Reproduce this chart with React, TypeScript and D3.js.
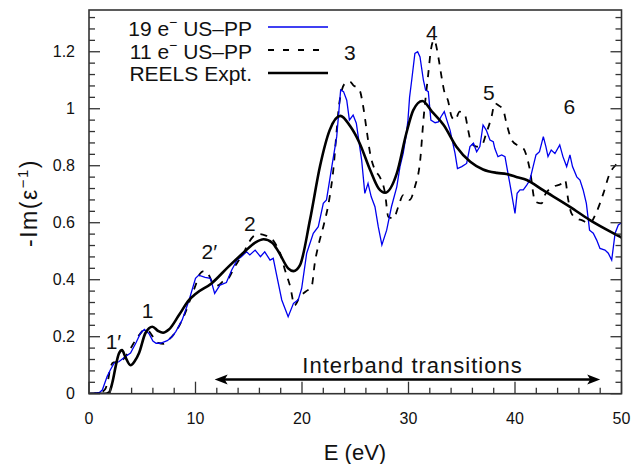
import React from "react";
import * as d3 from "d3";

// ---------- DATA ----------
const xMajorTicks = [0, 10, 20, 30, 40, 50];
const yMajorTicks = [0, 0.2, 0.4, 0.6, 0.8, 1, 1.2];
const yTickLabels = ["0", "0.2", "0.4", "0.6", "0.8", "1", "1.2"];

// 19 e- US-PP (blue)
const us19: [number, number][] = [
  [0, 0], [0.5, 0.002], [1.0, 0.005], [1.25, 0.013], [1.7, 0.06], [2.0, 0.083], [2.35, 0.107],
  [2.8, 0.112], [3.4, 0.13], [3.9, 0.143], [4.4, 0.178], [4.85, 0.213], [5.2, 0.226], [5.65, 0.21],
  [6.0, 0.185], [6.3, 0.177], [6.7, 0.177], [7.35, 0.186], [7.8, 0.2], [8.15, 0.218], [8.75, 0.259],
  [9.4, 0.329], [10.0, 0.405], [10.3, 0.416], [10.9, 0.408], [11.4, 0.405], [11.8, 0.352],
  [12.3, 0.381], [12.9, 0.39], [13.4, 0.434], [13.9, 0.469], [14.3, 0.481], [14.8, 0.498],
  [15.1, 0.487], [15.6, 0.504], [16.1, 0.481], [16.5, 0.498], [17.0, 0.469], [17.3, 0.475],
  [17.6, 0.42], [18.1, 0.329], [18.7, 0.27], [19.2, 0.317], [19.65, 0.33], [19.97, 0.37],
  [20.44, 0.493], [21.06, 0.563], [21.53, 0.586], [22.0, 0.668], [22.3, 0.68], [22.8, 0.797],
  [23.26, 0.902], [23.63, 1.066], [23.9, 1.06], [24.2, 1.03], [24.45, 0.96], [24.8, 0.978],
  [25.1, 0.949], [25.6, 0.82], [25.9, 0.703], [26.2, 0.738], [26.5, 0.691], [26.85, 0.656],
  [27.16, 0.586], [27.5, 0.522], [27.95, 0.574], [28.4, 0.656], [28.9, 0.726], [29.2, 0.797],
  [29.5, 0.843], [29.75, 0.9], [29.95, 0.96], [30.1, 1.04], [30.3, 1.1], [30.6, 1.194],
  [30.86, 1.2], [31.08, 1.182], [31.4, 1.1], [31.6, 1.066], [31.86, 1.06], [32.1, 0.96],
  [32.5, 0.951], [32.8, 0.954], [33.05, 0.972], [33.36, 0.99], [33.6, 0.96], [33.9, 0.925],
  [34.37, 0.843], [34.6, 0.79], [35.0, 0.797], [35.46, 0.808], [35.77, 0.867], [36.1, 0.879],
  [36.4, 0.849], [36.7, 0.867], [37.0, 0.943], [37.3, 0.925], [37.65, 0.89], [37.96, 0.884],
  [38.1, 0.861], [38.4, 0.832], [38.75, 0.838], [39.06, 0.832], [39.4, 0.761], [39.6, 0.72],
  [39.78, 0.68], [40.0, 0.633], [40.2, 0.703], [40.47, 0.715], [40.78, 0.715], [41.1, 0.732],
  [41.4, 0.75], [41.7, 0.797], [41.97, 0.838], [42.3, 0.849], [42.66, 0.902], [42.9, 0.867],
  [43.1, 0.832], [43.4, 0.855], [43.75, 0.843], [44.2, 0.873], [44.5, 0.832], [44.85, 0.797],
  [45.16, 0.838], [45.4, 0.797], [45.8, 0.761], [46.1, 0.75], [46.4, 0.715], [46.7, 0.668],
  [47.0, 0.574], [47.35, 0.563], [47.67, 0.539], [47.98, 0.51], [48.45, 0.504], [48.76, 0.493],
  [49.08, 0.469], [49.4, 0.563], [49.7, 0.592], [50, 0.6],
];

// 11 e- US-PP (dashed)
const us11: [number, number][] = [
  [0, 0], [1.0, 0.003], [1.5, 0.015], [1.8, 0.05], [2.0, 0.09], [2.3, 0.11], [2.7, 0.112],
  [3.2, 0.12], [3.6, 0.14], [4.0, 0.165], [4.4, 0.19], [4.8, 0.21], [5.2, 0.225], [5.6, 0.22],
  [6.0, 0.2], [6.5, 0.178], [7.0, 0.175], [7.5, 0.19], [8.0, 0.21], [8.5, 0.24], [9.0, 0.28],
  [9.5, 0.33], [10.0, 0.38], [10.4, 0.42], [10.8, 0.43], [11.2, 0.42], [11.6, 0.39], [12.1, 0.38],
  [12.6, 0.395], [13.1, 0.405], [13.6, 0.44], [14.1, 0.47], [14.65, 0.504], [15.0, 0.53],
  [15.4, 0.551], [16.0, 0.56], [16.6, 0.555], [17.15, 0.545], [17.6, 0.52], [17.9, 0.498],
  [18.4, 0.434], [18.9, 0.375], [19.3, 0.31], [19.8, 0.34], [20.4, 0.36], [20.9, 0.375],
  [21.2, 0.458], [21.6, 0.53], [22.0, 0.586], [22.6, 0.691], [22.94, 0.785], [23.26, 0.925],
  [23.5, 1.019], [24.04, 1.089], [24.5, 1.095], [24.8, 1.083], [25.4, 1.066], [25.75, 1.007],
  [26.07, 0.925], [26.4, 0.843], [26.85, 0.785], [27.3, 0.761], [27.8, 0.703], [28.1, 0.621],
  [28.6, 0.615], [29.04, 0.656], [29.5, 0.697], [30.1, 0.68], [30.6, 0.726], [31.1, 0.82],
  [31.4, 0.96], [31.86, 1.124], [32.1, 1.206], [32.4, 1.241], [32.8, 1.182], [33.05, 1.124],
  [33.4, 1.054], [33.7, 1.03], [34.05, 0.972], [34.37, 0.96], [34.8, 0.99], [35.3, 0.978],
  [35.6, 0.925], [35.9, 0.879], [36.4, 0.867], [36.9, 0.873], [37.3, 0.914], [37.8, 0.972],
  [38.1, 1.019], [38.4, 1.013], [38.9, 0.995], [39.2, 0.949], [39.7, 0.89], [40.3, 0.87],
  [40.8, 0.86], [41.4, 0.785], [41.9, 0.674], [42.5, 0.668], [42.8, 0.697], [43.6, 0.726],
  [44.4, 0.738], [44.7, 0.75], [45.0, 0.68], [45.3, 0.633], [45.8, 0.615], [46.26, 0.609],
  [47.0, 0.598], [47.67, 0.639], [48.3, 0.703], [48.9, 0.773], [49.4, 0.8], [50, 0.82],
];

// REELS experiment (solid black)
const reels: [number, number][] = [
  [0, 0], [1.5, 0.0], [1.9, 0.005], [2.2, 0.04], [2.5, 0.095], [2.8, 0.14], [3.1, 0.153],
  [3.4, 0.13], [3.9, 0.1], [4.3, 0.115], [4.7, 0.143], [5.3, 0.213], [5.95, 0.235], [6.5, 0.22],
  [6.95, 0.214], [7.5, 0.225], [8.45, 0.276], [9.4, 0.329], [10.0, 0.35], [11.5, 0.387],
  [13.1, 0.446], [14.6, 0.498], [15.6, 0.53], [16.4, 0.542], [17.2, 0.53], [17.8, 0.498],
  [18.7, 0.44], [19.2, 0.43], [19.8, 0.45], [20.75, 0.61], [21.7, 0.8], [22.6, 0.925],
  [23.6, 0.975], [24.5, 0.94], [25.4, 0.88], [26.4, 0.785], [27.2, 0.72], [27.8, 0.705],
  [28.9, 0.773], [29.8, 0.914], [30.45, 0.995], [31.3, 1.027], [32.2, 0.99], [33.3, 0.943],
  [34.5, 0.867], [35.8, 0.814], [37.0, 0.787], [38.3, 0.775], [39.2, 0.771], [40.2, 0.76],
  [41.1, 0.75], [42.6, 0.715], [45.2, 0.655], [47.0, 0.61], [49.9, 0.55], [50, 0.548],
];

// peak annotations: label, E, value (baseline position)
const peakLabels: [string, number, number][] = [
  ["1\u2032", 2.3, 0.157], ["1", 5.5, 0.267], ["2\u2032", 11.3, 0.472], ["2", 15.1, 0.572],
  ["3", 24.5, 1.172], ["4", 32.2, 1.242], ["5", 37.55, 1.032], ["6", 45.1, 0.982],
];

const arrowRange = [11.8, 48.0];
const arrowLevel = 0.05;

// ---------- LAYOUT ----------
const W = 632, H = 464;
const L = 89, R = 621.5, T = 10, B = 393.7;
const FONT = "'Liberation Sans', Arial, sans-serif";
const AXIS = "#333";

export default function App() {
  const x = d3.scaleLinear().domain([0, 50]).range([L, R]);
  const y = d3.scaleLinear().domain([0, 1.3465]).range([B, T]);

  const lineLin = d3.line<[number, number]>().x(d => x(d[0])).y(d => y(d[1]));
  const lineSmooth = d3.line<[number, number]>().x(d => x(d[0])).y(d => y(d[1])).curve(d3.curveMonotoneX);

  const xMinor = d3.range(0, 50.001, 2).filter(v => v % 10 !== 0);
  const yMinor = d3.range(0, 1.33, 0.04).filter(v => Math.abs(v / 0.2 - Math.round(v / 0.2)) > 1e-6);

  const ax0 = x(arrowRange[0]), ax1 = x(arrowRange[1]), ay = y(arrowLevel);

  return (
    <svg width={W} height={H} style={{ position: "absolute", left: 0, top: 0, background: "#fff" }}
      fontFamily={FONT}>
      <rect x={0} y={0} width={W} height={H} fill="#fff" />
      <defs>
        <clipPath id="plotclip">
          <rect x={L} y={T} width={R - L} height={B - T} />
        </clipPath>
      </defs>

      {/* curves */}
      <g clipPath="url(#plotclip)">
        <path d={lineSmooth(us11) || ""} fill="none" stroke="#000" strokeWidth={1.8} strokeDasharray="7 7" />
        <path d={lineLin(us19) || ""} fill="none" stroke="#0000ee" strokeWidth={1.3} />
        <path d={lineSmooth(reels) || ""} fill="none" stroke="#000" strokeWidth={2.6} />
      </g>

      {/* frame */}
      <rect x={L} y={T} width={R - L} height={B - T} fill="none" stroke={AXIS} strokeWidth={1.6} />

      {/* x ticks */}
      {xMajorTicks.map(v => (
        <g key={"xm" + v}>
          <line x1={x(v)} x2={x(v)} y1={B} y2={B - 12} stroke={AXIS} strokeWidth={1.3} />
          <text x={x(v)} y={423.5} fontSize={16} textAnchor="middle" fill="#111">{v}</text>
        </g>
      ))}
      {xMinor.map(v => (
        <line key={"xn" + v} x1={x(v)} x2={x(v)} y1={B} y2={B - 6} stroke={AXIS} strokeWidth={1.3} />
      ))}

      {/* y ticks (left and right) */}
      {yMajorTicks.map((v, i) => (
        <g key={"ym" + v}>
          <line x1={L} x2={L + 11} y1={y(v)} y2={y(v)} stroke={AXIS} strokeWidth={1.3} />
          <line x1={R} x2={R - 11} y1={y(v)} y2={y(v)} stroke={AXIS} strokeWidth={1.3} />
          <text x={75} y={y(v) + 5.5} fontSize={16} textAnchor="end" fill="#111">{yTickLabels[i]}</text>
        </g>
      ))}
      {yMinor.map(v => (
        <g key={"yn" + v}>
          <line x1={L} x2={L + 6} y1={y(v)} y2={y(v)} stroke={AXIS} strokeWidth={1.3} />
          <line x1={R} x2={R - 6} y1={y(v)} y2={y(v)} stroke={AXIS} strokeWidth={1.3} />
        </g>
      ))}

      {/* axis titles */}
      <text x={355} y={460} fontSize={22} textAnchor="middle" fill="#111">E (eV)</text>
      <text transform="translate(37,203) rotate(-90)" fontSize={23} letterSpacing={1.5} textAnchor="middle" fill="#111">
        -Im(ε<tspan dy={-9} fontSize={15}>−1</tspan><tspan dy={9}>)</tspan>
      </text>

      {/* legend */}
      {[
        { label: "19", stroke: "#0000ee", w: 1.3, dash: undefined as string | undefined, y: 27 },
        { label: "11", stroke: "#000", w: 1.8, dash: "6 9", y: 50 },
      ].map(d => (
        <g key={d.label}>
          <text x={252} y={d.y + 9} fontSize={21} textAnchor="end" fill="#111">
            {d.label} e<tspan dy={-9} fontSize={14}>−</tspan><tspan dy={9}> US–PP</tspan>
          </text>
          <line x1={268} x2={328} y1={d.y} y2={d.y} stroke={d.stroke} strokeWidth={d.w} strokeDasharray={d.dash} />
        </g>
      ))}
      <text x={252} y={81} fontSize={21} textAnchor="end" fill="#111">REELS Expt.</text>
      <line x1={268} x2={328} y1={73} y2={73} stroke="#000" strokeWidth={2.6} />

      {/* peak labels */}
      {peakLabels.map(([t, e, v]) => (
        <text key={t} x={x(e)} y={y(v)} fontSize={21} textAnchor="middle" fill="#111">{t}</text>
      ))}

      {/* interband arrow */}
      <line x1={ax0 + 8} x2={ax1 - 8} y1={ay} y2={ay} stroke="#000" strokeWidth={2.4} />
      <path d={`M${ax0},${ay} L${ax0 + 13},${ay - 5} L${ax0 + 10},${ay} L${ax0 + 13},${ay + 5} Z`} fill="#000" />
      <path d={`M${ax1},${ay} L${ax1 - 13},${ay - 5} L${ax1 - 10},${ay} L${ax1 - 13},${ay + 5} Z`} fill="#000" />
      <text x={412.5} y={373} fontSize={22} letterSpacing={1} textAnchor="middle" fill="#111">Interband transitions</text>
    </svg>
  );
}
